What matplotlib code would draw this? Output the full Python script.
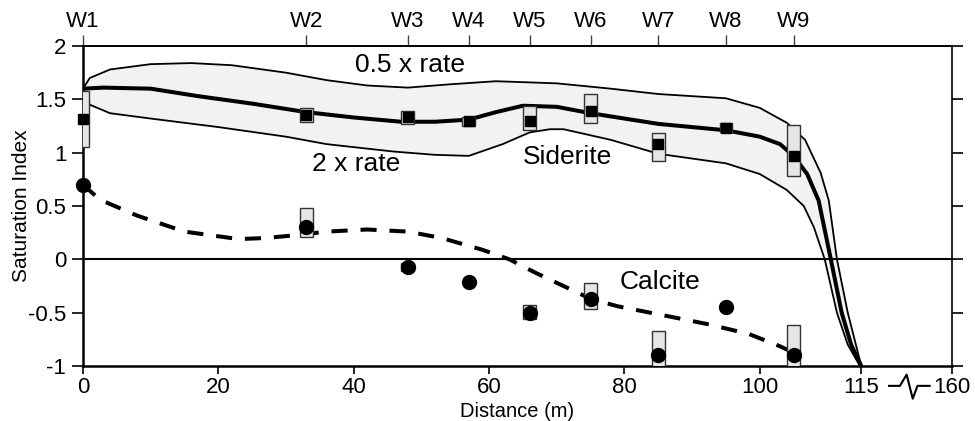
import numpy as np
import matplotlib
matplotlib.use("Agg")
import matplotlib.pyplot as plt
from matplotlib.patches import Rectangle
from matplotlib.lines import Line2D
import matplotlib.transforms as mtransforms

plt.rcParams['font.family'] = ['Liberation Sans', 'DejaVu Sans']
plt.rcParams['axes.unicode_minus'] = False

# wells along the flow path
wells = ['W1', 'W2', 'W3', 'W4', 'W5', 'W6', 'W7', 'W8', 'W9']
well_x = [0, 33, 48, 57, 66, 75, 85, 95, 105]

# measured siderite SI with uncertainty range
sid_si = [1.32, 1.35, 1.33, 1.30, 1.30, 1.39, 1.08, 1.23, 0.97]
sid_lo = [1.05, 1.29, 1.27, 1.25, 1.21, 1.28, 0.92, 1.19, 0.78]
sid_hi = [1.58, 1.42, 1.39, 1.33, 1.44, 1.55, 1.18, 1.28, 1.26]

# measured calcite SI with uncertainty range (nan = no range drawn)
cal_si = [0.70, 0.30, -0.07, -0.21, -0.50, -0.37, -0.90, -0.45, -0.90]
cal_lo = [np.nan, 0.21, -0.11, np.nan, -0.56, -0.47, -1.05, np.nan, -1.05]
cal_hi = [np.nan, 0.48, -0.03, np.nan, -0.43, -0.22, -0.67, np.nan, -0.62]

# simulated siderite SI (base rate)
sid_mod_x = [0, 3, 10, 17, 25, 33, 40, 47, 52, 57, 61, 65, 70, 75, 80, 85, 90,
             95, 100, 103, 105, 107, 108.7, 110.5, 112.1, 113.5, 115]
sid_mod_y = [1.60, 1.61, 1.60, 1.53, 1.46, 1.38, 1.33, 1.29, 1.29, 1.31, 1.38,
             1.44, 1.43, 1.37, 1.32, 1.27, 1.24, 1.21, 1.15, 1.08, 0.97, 0.80,
             0.55, 0.0, -0.5, -0.8, -1.0]

# 0.5 x rate
half_x = [0, 1, 4, 10, 16, 22, 30, 36, 42, 48, 54, 61, 70, 78, 85, 95, 100,
          104, 106.7, 109, 110.2, 111.4, 113, 115]
half_y = [1.60, 1.70, 1.78, 1.83, 1.84, 1.82, 1.75, 1.68, 1.63, 1.61, 1.64,
          1.67, 1.65, 1.60, 1.55, 1.51, 1.42, 1.28, 1.12, 0.81, 0.55, 0.0,
          -0.5, -1.0]

# 2 x rate
dbl_x = [0, 1, 4, 10, 20, 30, 36, 46, 52, 57, 62, 66, 69, 71, 78, 85, 95,
         100, 104, 106.5, 108, 109.6, 111.4, 113, 114.8]
dbl_y = [1.60, 1.45, 1.37, 1.32, 1.24, 1.15, 1.08, 1.01, 0.98, 0.97, 1.08,
         1.19, 1.22, 1.22, 1.12, 0.99, 0.90, 0.80, 0.65, 0.50, 0.30, 0.0,
         -0.5, -0.8, -1.0]

# simulated calcite SI
cal_mod_x = [0, 2.5, 8, 15, 23, 27, 32, 36, 42, 48, 53, 59, 63, 67, 71, 75,
             79, 83, 87, 92.5, 98.4, 102.8, 104.5]
cal_mod_y = [0.70, 0.56, 0.41, 0.26, 0.19, 0.20, 0.23, 0.26, 0.28, 0.26, 0.20,
             0.09, 0.0, -0.13, -0.25, -0.37, -0.44, -0.49, -0.54, -0.61,
             -0.70, -0.81, -0.86]

xticks = [0, 20, 40, 60, 80, 100, 115]
x_end = 128.4          # right end of axis, stands for 160 m after the break
x_end_label = '160'
yticks = [-1, -0.5, 0, 0.5, 1, 1.5, 2]

box_w = 1.9
box_face = '#e6e6e6'
box_edge = '#333333'

fig = plt.figure(figsize=(9.75, 4.21), dpi=100)
ax = fig.add_axes([0.0851, 0.1306, 0.8913, 0.7601])

# envelope between 0.5x and 2x rate
env_x = np.concatenate([half_x, dbl_x[::-1]])
env_y = np.concatenate([half_y, dbl_y[::-1]])
ax.fill(env_x, env_y, color='#f2f2f2', lw=0, zorder=1)
ax.plot(half_x, half_y, color='black', lw=1.3, zorder=2)
ax.plot(dbl_x, dbl_y, color='black', lw=1.3, zorder=2)
ax.plot(sid_mod_x, sid_mod_y, color='black', lw=2.9, zorder=3,
        solid_capstyle='butt')
ax.plot(cal_mod_x, cal_mod_y, color='black', lw=2.9, zorder=3,
        dashes=(4.0, 3.2), dash_capstyle='butt')
ax.axhline(0, color='black', lw=1.5, zorder=2)

# uncertainty boxes
for x, lo, hi in list(zip(well_x, sid_lo, sid_hi)) + list(zip(well_x, cal_lo, cal_hi)):
    if np.isnan(lo):
        continue
    ax.add_patch(Rectangle((x - box_w / 2, lo), box_w, hi - lo,
                           facecolor=box_face, edgecolor=box_edge, lw=1.0,
                           zorder=4))

ax.plot(well_x, sid_si, 's', color='black', ms=7, zorder=5, clip_on=False)
ax.plot(well_x, cal_si, 'o', color='black', ms=10, zorder=5, clip_on=False)

# labels on the plot
ax.text(48.3, 1.82, '0.5 x rate', fontsize=19, ha='center', va='center')
ax.text(40.4, 0.89, '2 x rate', fontsize=19, ha='center', va='center')
ax.text(71.6, 0.96, 'Siderite', fontsize=19, ha='center', va='center')
ax.text(85.3, -0.21, 'Calcite', fontsize=19, ha='center', va='center')

ax.set_xlim(0, x_end)
ax.set_ylim(-1, 2)
ax.set_xticks(xticks + [x_end])
ax.set_xticklabels([str(v) for v in xticks] + [x_end_label])
ax.set_yticks(yticks)
ax.set_yticklabels([f'{v:g}' for v in yticks])
ax.tick_params(axis='both', direction='out', labelsize=16, length=8,
               width=1.2, pad=4)
ax.tick_params(axis='x', length=6, pad=2)
ax.tick_params(axis='y', right=True, labelright=False)

for side in ['left', 'bottom']:
    ax.spines[side].set_linewidth(1.8)
for side in ['right', 'top']:
    ax.spines[side].set_linewidth(1.2)

ax.set_xlabel('Distance (m)', fontsize=14.5)
ax.xaxis.set_label_coords(0.5, -0.112)
ax.set_ylabel('Saturation Index', fontsize=15)
ax.yaxis.set_label_coords(-0.06, 0.5)

# well names on top
secax = ax.secondary_xaxis('top')
secax.set_xticks(well_x)
secax.set_xticklabels(wells)
secax.tick_params(direction='out', length=8, width=1.0, color='#444444',
                  labelsize=16, pad=2)
secax.spines['top'].set_linewidth(1.2)

# axis break symbol between 115 and 160
trans = mtransforms.blended_transform_factory(ax.transData, ax.transAxes)
brk_x = [119.1, 120.7, 121.7, 122.6, 123.3, 125.1]
brk_y = [-0.062, -0.062, -0.027, -0.102, -0.062, -0.062]
ax.add_line(Line2D(brk_x, brk_y, transform=trans, color='black', lw=1.5,
                   clip_on=False))

fig.savefig('out.png', dpi=100)
